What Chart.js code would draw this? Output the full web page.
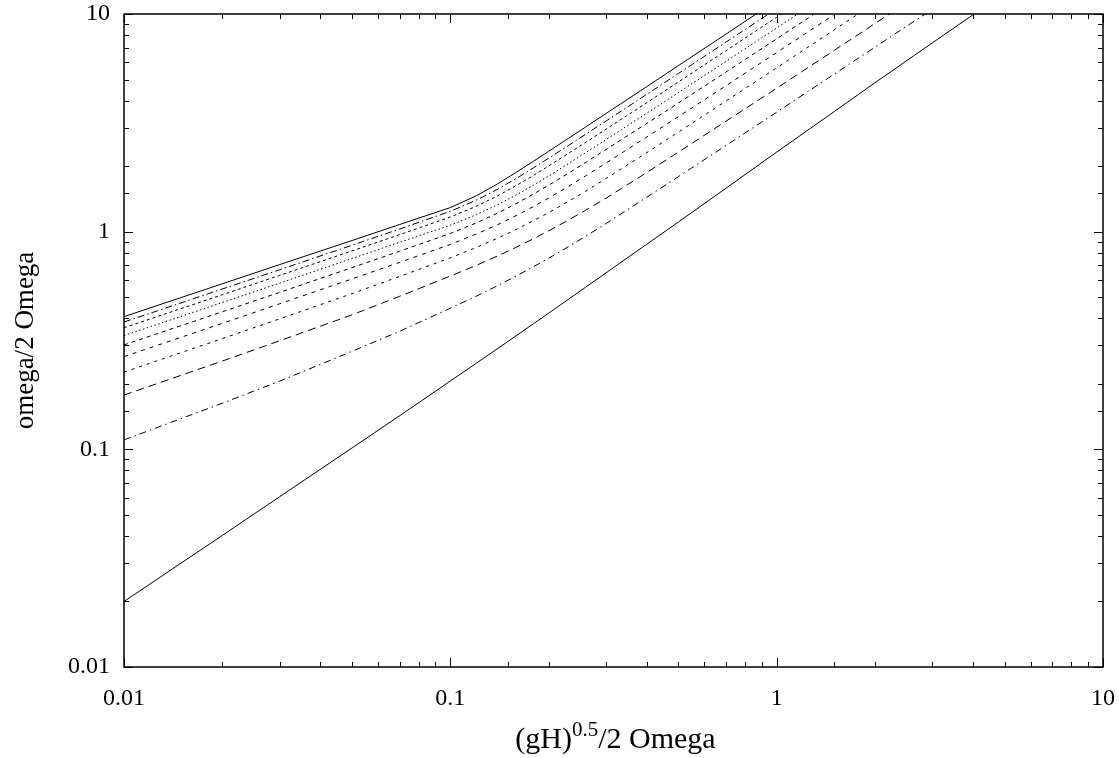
<!DOCTYPE html>
<html>
<head>
<meta charset="utf-8">
<script src="https://cdn.jsdelivr.net/npm/chart.js@4.4.1/dist/chart.umd.min.js"></script>
<style>
  body { margin: 0; background: #fff; }
  canvas { display: block; }
</style>
</head>
<body>
<canvas id="chart" width="1119" height="758"></canvas>
<script>
// x values shared by every curve: (gH)^0.5 / 2 Omega
const xs = [0.01, 0.02, 0.03, 0.05, 0.07, 0.1, 0.12, 0.14, 0.16, 0.18, 0.2, 0.23, 0.26, 0.3, 0.4, 0.5, 0.7, 1, 1.5, 2, 3, 4, 5];

// omega / 2 Omega (null = curve has already left through the top)
const kelvin = [0.0200, 0.0402, 0.0606, 0.1015, 0.1428, 0.206, 0.2484, 0.2912, 0.3344, 0.378, 0.422, 0.4888, 0.5564, 0.6465, 0.876, 1.1075, 1.585, 2.32, 3.56, 4.83, 7.37, 9.92, 12.4];
const mode0 = [0.1105, 0.1628, 0.2058, 0.282, 0.349, 0.445, 0.505, 0.566, 0.628, 0.691, 0.755, 0.853, 0.953, 1.09, 1.44, 1.79, 2.49, 3.54, 5.29, 7.04, 10.52, null, null];
const mode1 = [0.1776, 0.2544, 0.3153, 0.415, 0.505, 0.625, 0.70, 0.775, 0.851, 0.929, 1.008, 1.13, 1.256, 1.425, 1.87, 2.32, 3.22, 4.56, 6.80, 9.04, 13.5, null, null];
const mode2 = [0.2265, 0.3226, 0.3977, 0.5194, 0.623, 0.758, 0.8456, 0.9348, 1.0278, 1.124, 1.2226, 1.3772, 1.5357, 1.7545, 2.3087, 2.8676, 3.9838, 5.6581, 8.4528, 11.25, null, null, null];
const mode3 = [0.2667, 0.379, 0.4664, 0.6069, 0.7233, 0.8737, 0.9748, 1.0792, 1.1896, 1.3056, 1.4265, 1.6131, 1.8056, 2.0686, 2.722, 3.376, 4.687, 6.651, 9.936, 13.22, null, null, null];
const mode4 = [0.3018, 0.4284, 0.5263, 0.6837, 0.8134, 0.9808, 1.0962, 1.2195, 1.3516, 1.4906, 1.6335, 1.8547, 2.0816, 2.3875, 3.1426, 3.899, 5.415, 7.691, 11.5, null, null, null, null];
const mode5 = [0.3332, 0.4725, 0.5803, 0.7528, 0.8947, 1.07, 1.1959, 1.3321, 1.4803, 1.6385, 1.8008, 2.0529, 2.3074, 2.6485, 3.501, 4.355, 6.065, 8.626, 12.9, null, null, null, null];
const mode6 = [0.3619, 0.513, 0.6297, 0.8162, 0.9694, 1.1677, 1.3076, 1.4632, 1.6346, 1.8155, 2.0026, 2.2877, 2.573, 2.956, 3.9128, 4.8731, 6.791, 9.667, 14.47, null, null, null, null];
const mode7 = [0.3846, 0.545, 0.6687, 0.8663, 1.029, 1.2405, 1.3944, 1.5696, 1.7634, 1.9665, 2.1737, 2.488, 2.8029, 3.2226, 4.2756, 5.3303, 7.434, 10.58, null, null, null, null, null];
const mode8 = [0.407, 0.576, 0.706, 0.911, 1.079, 1.29, 1.4604, 1.6626, 1.8823, 2.1086, 2.3378, 2.6834, 3.0282, 3.4891, 4.6409, 5.7943, 8.091, 11.56, null, null, null, null, null];

const xTickLabels = ['0.01', '0.1', '1', '10'];
const yTickLabels = ['0.01', '0.1', '1', '10'];

const curves = [
    { ys: mode8, dash: [] },
    { ys: mode7, dash: [7, 3, 1.5, 3] },
    { ys: mode6, dash: [3, 3] },
    { ys: mode5, dash: [1.5, 2.5] },
    { ys: mode4, dash: [4, 4] },
    { ys: mode3, dash: [4, 5] },
    { ys: mode2, dash: [3, 5] },
    { ys: mode1, dash: [8, 5] },
    { ys: mode0, dash: [7, 4, 1.5, 4] },
    { ys: kelvin, dash: [] }
];

const FONT = "'Liberation Serif', 'Times New Roman', serif";

function decadeLabel(labels, v) {
    const e = Math.log10(v);
    if (Math.abs(e - Math.round(e)) > 1e-6) return '';
    return labels[Math.round(e) + 2] || '';
}

const frameTicks = {
    id: 'frameTicks',
    afterDraw(chart) {
        const ctx = chart.ctx;
        const a = chart.chartArea;
        const x = chart.scales.x, y = chart.scales.y;
        ctx.save();
        ctx.strokeStyle = '#000';
        ctx.lineWidth = 1;
        ctx.beginPath();
        x.ticks.forEach(t => {
            const px = Math.round(x.getPixelForValue(t.value)) + 0.5;
            const len = decadeLabel(xTickLabels, t.value) ? 9 : 5;
            ctx.moveTo(px, a.bottom); ctx.lineTo(px, a.bottom - len);
            ctx.moveTo(px, a.top); ctx.lineTo(px, a.top + len);
        });
        y.ticks.forEach(t => {
            const py = Math.round(y.getPixelForValue(t.value)) + 0.5;
            const len = decadeLabel(yTickLabels, t.value) ? 9 : 5;
            ctx.moveTo(a.left, py); ctx.lineTo(a.left + len, py);
            ctx.moveTo(a.right, py); ctx.lineTo(a.right - len, py);
        });
        ctx.stroke();
        ctx.lineWidth = 1.5;
        ctx.strokeRect(a.left, a.top, a.right - a.left, a.bottom - a.top);

        // axis titles
        ctx.fillStyle = '#000';
        ctx.textBaseline = 'alphabetic';
        const xMain = '30px ' + FONT, xSup = '21px ' + FONT;
        const parts = [['(gH)', xMain, 0], ['0.5', xSup, -12], ['/2 Omega', xMain, 0]];
        let total = 0;
        parts.forEach(p => { ctx.font = p[1]; total += ctx.measureText(p[0]).width; });
        let cx = (a.left + a.right) / 2 + 2 - total / 2;
        ctx.textAlign = 'left';
        parts.forEach(p => {
            ctx.font = p[1];
            ctx.fillText(p[0], cx, 748 + p[2]);
            cx += ctx.measureText(p[0]).width;
        });

        ctx.translate(33, (a.top + a.bottom) / 2);
        ctx.rotate(-Math.PI / 2);
        ctx.font = '27px ' + FONT;
        ctx.textAlign = 'center';
        ctx.fillText('omega/2 Omega', 0, 0);
        ctx.restore();
    }
};

new Chart(document.getElementById('chart'), {
    type: 'line',
    data: {
        datasets: curves.map(c => ({
            data: xs.map((x, i) => ({ x: x, y: c.ys[i] })),
            borderColor: '#000',
            borderWidth: 1,
            borderDash: c.dash,
            pointRadius: 0,
            fill: false,
            tension: 0,
            spanGaps: false
        }))
    },
    options: {
        responsive: false,
        animation: false,
        devicePixelRatio: 1,
        layout: { padding: { top: 14, right: 16, left: 0, bottom: 0 } },
        plugins: { legend: { display: false }, tooltip: { enabled: false } },
        scales: {
            x: {
                type: 'logarithmic',
                min: 0.01,
                max: 10,
                grid: { display: false, drawTicks: false },
                border: { display: false },
                ticks: {
                    autoSkip: false,
                    maxRotation: 0,
                    padding: 17,
                    color: '#000',
                    font: { family: FONT, size: 24 },
                    callback: v => decadeLabel(xTickLabels, v)
                },
                afterFit: s => {
                    s.height = 91;
                    s.paddingLeft = 0; s.paddingRight = 0;
                }
            },
            y: {
                type: 'logarithmic',
                min: 0.01,
                max: 10,
                grid: { display: false, drawTicks: false },
                border: { display: false },
                ticks: {
                    autoSkip: false,
                    padding: 14,
                    color: '#000',
                    font: { family: FONT, size: 24 },
                    callback: v => decadeLabel(yTickLabels, v)
                },
                afterFit: s => {
                    s.width = 124;
                    s.paddingTop = 0; s.paddingBottom = 0;
                }
            }
        }
    },
    plugins: [frameTicks]
});
</script>
</body>
</html>
